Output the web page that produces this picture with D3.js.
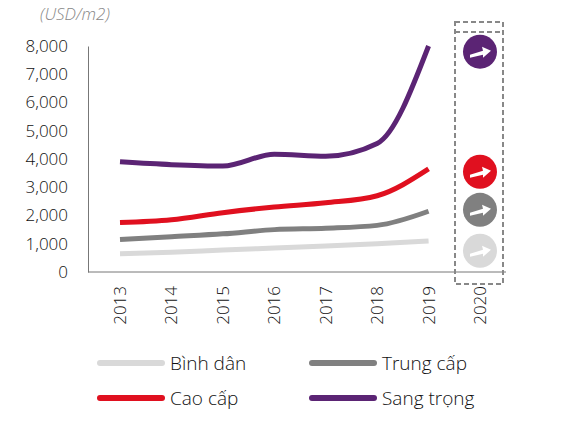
<!DOCTYPE html>
<html>
<head>
<meta charset="UTF-8">
<script src="https://cdnjs.cloudflare.com/ajax/libs/d3/7.8.5/d3.min.js"></script>
<style>
  body { margin: 0; background: #fff; }
  text { font-family: 'Open Sans', sans-serif; font-weight: 300; fill: #111; }
</style>
</head>
<body>
<svg id="chart" width="562" height="426"></svg>
<script>
var years = ["2013", "2014", "2015", "2016", "2017", "2018", "2019", "2020"];
var binhDan = [650, 700, 780, 850, 920, 1000, 1100];
var trungCap = [1150, 1250, 1350, 1500, 1550, 1650, 2150];
var caoCap = [1750, 1850, 2100, 2300, 2450, 2700, 3650];
var sangTrong = [3900, 3800, 3750, 4170, 4100, 4550, 8000];
var forecast = [7800, 3550, 2200, 750]; // circles in 2020: sang trong, cao cap, trung cap, binh dan
var names = ["Bình dân", "Trung cấp", "Cao cấp", "Sang trọng"];
var colors = ["#d9d9d9", "#808080", "#e0101f", "#5b2474"];

var svg = d3.select("#chart");
var x = d3.scalePoint().domain(years).range([120, 480]);
var y = d3.scaleLinear().domain([0, 8000]).range([272, 46]);

// y axis
var ya = svg.append("g").attr("transform", "translate(88,0)")
  .call(d3.axisLeft(y).tickValues(d3.range(0, 8001, 1000)).tickSize(0).tickFormat(d3.format(",")));
ya.select(".domain").attr("stroke", "#777");
ya.selectAll("text").attr("x", -20).style("font-size", "17px");
svg.append("text").attr("x", 40).attr("y", 20).style("font-style", "italic").style("font-size", "17px").style("fill", "#888").text("(USD/m2)");

// x axis line
svg.append("line").attr("x1", 88).attr("x2", 506).attr("y1", 272).attr("y2", 272).attr("stroke", "#777");
years.forEach(function (d) {
  svg.append("text").attr("transform", "translate(" + (x(d) + 6) + ",286) rotate(-90)")
    .attr("text-anchor", "end").style("font-size", "17px").text(d);
});

// forecast box
svg.append("rect").attr("x", 455).attr("y", 22).attr("width", 48).attr("height", 262)
  .attr("fill", "none").attr("stroke", "#888").attr("stroke-width", 2).attr("stroke-dasharray", "5,3");
svg.append("line").attr("x1", 455).attr("x2", 503).attr("y1", 32).attr("y2", 32)
  .attr("stroke", "#888").attr("stroke-width", 2).attr("stroke-dasharray", "5,3");

var line = d3.line().x(function (d, i) { return x(years[i]); }).y(function (d) { return y(d); }).curve(d3.curveMonotoneX);
[binhDan, trungCap, caoCap, sangTrong].forEach(function (s, k) {
  svg.append("path").attr("d", line(s)).attr("fill", "none").attr("stroke", colors[k]).attr("stroke-width", 5);
});

// circles with arrows
var fc = [colors[3], colors[2], colors[1], colors[0]];
forecast.forEach(function (v, i) {
  var g = svg.append("g").attr("transform", "translate(" + x("2020") + "," + y(v) + ")");
  g.append("circle").attr("r", 17).attr("fill", fc[i]);
  g.append("path").attr("d", "M-10,3 L3,-1 L2,-5 L11,-1 L3,6 L3,3 L-10,6 Z").attr("fill", "#fff");
});

// legend
var leg = [[0, 100, 363], [1, 312, 363], [2, 100, 398], [3, 312, 398]];
leg.forEach(function (l) {
  svg.append("line").attr("x1", l[1]).attr("x2", l[1] + 62).attr("y1", l[2]).attr("y2", l[2])
    .attr("stroke", colors[l[0]]).attr("stroke-width", 6).attr("stroke-linecap", "round");
  svg.append("text").attr("x", l[1] + 70).attr("y", l[2] + 7).style("font-size", "19px").text(names[l[0]]);
});
</script>
</body>
</html>
